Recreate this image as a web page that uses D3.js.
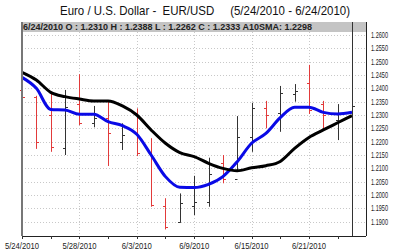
<!DOCTYPE html>
<html><head><meta charset="utf-8">
<script src="https://cdn.jsdelivr.net/npm/d3@7"></script>
<style>body{margin:0;background:#fff}svg{display:block}text{font-family:"Liberation Sans",Arial,sans-serif}</style>
</head><body>
<script>
const dates = ["5/24/2010","5/25/2010","5/26/2010","5/27/2010","5/28/2010","5/31/2010","6/1/2010","6/2/2010","6/3/2010","6/4/2010","6/7/2010","6/8/2010","6/9/2010","6/10/2010","6/11/2010","6/14/2010","6/15/2010","6/16/2010","6/17/2010","6/18/2010","6/21/2010","6/22/2010","6/23/2010","6/24/2010"];
const open  = [1.2395,1.2366,1.2300,1.2176,1.2340,1.2269,1.2290,1.2200,1.2230,1.2156,1.1960,1.1900,1.1960,1.1975,1.2120,1.2060,1.2219,1.2325,1.2309,1.2380,1.2419,1.2340,1.2280,1.2310];
const high  = [1.2410,1.2372,1.2381,1.2394,1.2453,1.2334,1.2350,1.2269,1.2325,1.2213,1.1988,1.2006,1.2072,1.2140,1.2150,1.2296,1.2346,1.2353,1.2409,1.2416,1.2488,1.2353,1.2341,1.2388];
const low   = [1.2340,1.2173,1.2162,1.2150,1.2262,1.2254,1.2109,1.2169,1.2146,1.1956,1.1871,1.1896,1.1925,1.1956,1.2044,1.2094,1.2162,1.2250,1.2237,1.2350,1.2304,1.2244,1.2206,1.2262];
const close = [1.2369,1.2200,1.2181,1.2330,1.2269,1.2290,1.2231,1.2225,1.2156,1.1963,1.1881,1.1969,1.1973,1.2080,1.2060,1.2219,1.2325,1.2300,1.2384,1.2390,1.2320,1.2300,1.2306,1.2333];
const sma10 = [1.2460,1.2431,1.2385,1.2369,1.2360,1.2353,1.2353,1.2334,1.2300,1.2244,1.2194,1.2159,1.2144,1.2119,1.2100,1.2091,1.2102,1.2110,1.2126,1.2175,1.2216,1.2244,1.2271,1.2298];
const smaFast = [1.2441,1.2400,1.2321,1.2319,1.2303,1.2303,1.2275,1.2260,1.2228,1.2150,1.2069,1.2029,1.2028,1.2040,1.2069,1.2125,1.2194,1.2231,1.2290,1.2329,1.2329,1.2310,1.2304,1.2310];
const xLabels = ["5/24/2010","5/28/2010","6/3/2010","6/9/2010","6/15/2010","6/21/2010"];
const yTicks = d3.range(0,15).map(i => +(1.19 + i*0.005).toFixed(4));
const title = "Euro / U.S. Dollar -  EUR/USD     (5/24/2010 - 6/24/2010)";
const header = "6/24/2010 O : 1.2310 H : 1.2388 L : 1.2262 C : 1.2333 A10SMA: 1.2298";

const W=396,H=250;
const L=22,R=366,T=22,B=236;
const svg=d3.select("body").append("svg").attr("width",W).attr("height",H);
const x=d3.scalePoint().domain(dates).range([22,352]);
const y=d3.scaleLinear().domain([1.19,1.26]).range([221.7,35]);

function fitTo(t,w){t.attr("textLength",w).attr("lengthAdjust","spacingAndGlyphs");return t;}

// title
fitTo(svg.append("text").attr("x",205).attr("y",15).attr("text-anchor","middle").attr("font-size",13).attr("fill","#111")
  .attr("xml:space","preserve").style("white-space","pre").text(title),290);

// plot bg
svg.append("rect").attr("x",L).attr("y",T).attr("width",R-L).attr("height",B-T).attr("fill","#fff");

// grid
const g=svg.append("g");
g.selectAll("line.h").data(yTicks).join("line").attr("x1",L).attr("x2",R)
 .attr("y1",d=>Math.round(y(d))+0.5).attr("y2",d=>Math.round(y(d))+0.5)
 .attr("stroke","#c8c8c8").attr("stroke-dasharray","1,2");
g.selectAll("line.v").data(xLabels.slice(1)).join("line").attr("y1",T+10).attr("y2",B)
 .attr("x1",d=>Math.round(x(d))+0.5).attr("x2",d=>Math.round(x(d))+0.5)
 .attr("stroke","#c8c8c8").attr("stroke-dasharray","1,2");

// header bar
svg.append("rect").attr("x",L).attr("y",T).attr("width",R-L).attr("height",10).attr("fill","#c4c4c4");
fitTo(svg.append("text").attr("x",L+1).attr("y",29.5).attr("font-size",8.5).attr("font-weight","bold").attr("fill","#222").text(header),289);

// OHLC bars
const bars=svg.append("g");
const idx=d3.range(dates.length);
bars.selectAll("g").data(idx).join("g").each(function(i){
  const c = close[i]<open[i] ? "#e23a3a" : "#333";
  const xp=Math.round(x(dates[i]))+0.5;
  const s=d3.select(this);
  s.append("line").attr("x1",xp).attr("x2",xp).attr("y1",y(high[i])).attr("y2",y(low[i])).attr("stroke",c);
  s.append("line").attr("x1",xp-2.5).attr("x2",xp).attr("y1",Math.round(y(open[i]))+0.5).attr("y2",Math.round(y(open[i]))+0.5).attr("stroke",c);
  s.append("line").attr("x1",xp).attr("x2",xp+2.5).attr("y1",Math.round(y(close[i]))+0.5).attr("y2",Math.round(y(close[i]))+0.5).attr("stroke",c);
});

// SMA lines
const line=d3.line().x((d,i)=>x(dates[i])).y(d=>y(d)).curve(d3.curveMonotoneX);
svg.append("path").datum(smaFast).attr("d",line).attr("fill","none").attr("stroke","#0a0ae6").attr("stroke-width",3).attr("stroke-linejoin","round");
svg.append("path").datum(sma10).attr("d",line).attr("fill","none").attr("stroke","#000").attr("stroke-width",3).attr("stroke-linejoin","round");

// cursor line at last date
const lx=Math.round(x(dates[dates.length-1]))+0.5;
svg.append("line").attr("x1",lx).attr("x2",lx).attr("y1",T).attr("y2",B).attr("stroke","#333");

// frame
svg.append("line").attr("x1",L).attr("x2",L).attr("y1",T).attr("y2",B).attr("stroke","#777").attr("stroke-width",2);
svg.append("line").attr("x1",L).attr("x2",R).attr("y1",B+0.5).attr("y2",B+0.5).attr("stroke","#222");
svg.append("line").attr("x1",R+0.5).attr("x2",R+0.5).attr("y1",T).attr("y2",B).attr("stroke","#222");

// x axis minor ticks and labels
const xa=svg.append("g");
xa.selectAll("line").data(dates.filter((d,i)=>i%2===0)).join("line")
 .attr("x1",d=>Math.round(x(d))+0.5).attr("x2",d=>Math.round(x(d))+0.5).attr("y1",B).attr("y2",B+3).attr("stroke","#333");
xa.selectAll("text").data(xLabels).join("text").attr("x",d=>x(d)).attr("y",248.5)
 .attr("text-anchor","middle").attr("font-size",9.5).attr("fill","#222").text(d=>d)
 .each(function(d){fitTo(d3.select(this), d.length===9?34:30);});

// y axis labels
svg.append("g").selectAll("text").data(yTicks).join("text")
 .attr("x",371).attr("y",d=>y(d)+3).attr("font-size",8.5).attr("fill","#222")
 .text(d=>d.toFixed(4)).each(function(){fitTo(d3.select(this),17);});
</script>
</body></html>
